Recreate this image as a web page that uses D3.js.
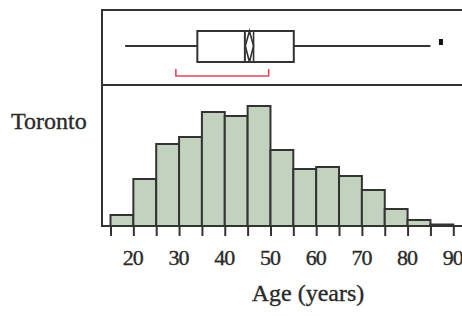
<!DOCTYPE html>
<html>
<head>
<meta charset="utf-8">
<script src="https://cdn.jsdelivr.net/npm/d3@7"></script>
<style>
  body { margin: 0; background: #fff; }
  text { font-family: "Liberation Serif", "DejaVu Serif", "Times New Roman", serif; fill: #2a2a2a; stroke: #2a2a2a; stroke-width: 0.35px; }
</style>
</head>
<body>
<svg id="chart" width="462" height="316"></svg>
<script>
// age histogram, 5-year bins
var binStarts = [15, 20, 25, 30, 35, 40, 45, 50, 55, 60, 65, 70, 75, 80, 85];
var binWidth = 5;
var percents = [1.1, 4.7, 8.2, 8.9, 11.4, 11.0, 12.0, 7.6, 5.7, 5.9, 5.0, 3.6, 1.7, 0.6, 0.15];
var tickVals = [15, 20, 25, 30, 35, 40, 45, 50, 55, 60, 65, 70, 75, 80, 85, 90];
var tickLabels = ["", "20", "", "30", "", "40", "", "50", "", "60", "", "70", "", "80", "", "90"];

// box plot summary
var whiskerLo = 18.2, q1 = 34.0, median = 44.4, q3 = 55.1, whiskerHi = 85.0;
var meanLo = 44.5, mean = 45.4, meanHi = 46.3;
var outliers = [87.3];
var shortestHalf = [29.3, 49.6];

var svg = d3.select("#chart");
var frameL = 102, frameT = 10, divY = 85, baseY = 226, rightX = 463;
var ink = "#333";

var x = d3.scaleLinear().domain([15, 90]).range([110.5, 453.3]);
var y = d3.scaleLinear().domain([0, 14]).range([baseY, baseY - 140]);

// bars
svg.append("g").selectAll("rect")
    .data(binStarts)
    .enter().append("rect")
    .attr("x", function(d) { return x(d); })
    .attr("y", function(d, i) { return y(percents[i]); })
    .attr("width", function(d) { return x(d + binWidth) - x(d); })
    .attr("height", function(d, i) { return baseY - y(percents[i]); })
    .attr("fill", "#c2d2be")
    .attr("stroke", ink)
    .attr("stroke-width", 2);

// frame
svg.append("path")
    .attr("d", "M" + rightX + "," + frameT + "H" + frameL + "V" + baseY + "H" + rightX)
    .attr("fill", "none").attr("stroke", ink).attr("stroke-width", 2);
svg.append("line")
    .attr("x1", frameL).attr("x2", rightX).attr("y1", divY).attr("y2", divY)
    .attr("stroke", ink).attr("stroke-width", 2);

// x axis
var axis = d3.axisBottom(x)
    .tickValues(tickVals)
    .tickSize(10)
    .tickPadding(13)
    .tickFormat(function(d, i) { return tickLabels[i]; });
var gx = svg.append("g").attr("transform", "translate(0," + baseY + ")").call(axis);
gx.select(".domain").remove();
gx.selectAll(".tick line").attr("stroke", ink).attr("stroke-width", 2);
gx.selectAll(".tick text")
    .attr("font-size", 22)
    .attr("letter-spacing", "-1px")
    .attr("dx", -1);

svg.append("text")
    .attr("x", 308).attr("y", 301)
    .attr("text-anchor", "middle")
    .attr("font-size", 24)
    .text("Age (years)");

svg.append("text")
    .attr("x", 11).attr("y", 129)
    .attr("font-size", 24)
    .text("Toronto");

// box plot
var midY = 46, boxT = 31, boxB = 62;
var bp = svg.append("g").attr("stroke", ink).attr("stroke-width", 2).attr("fill", "none");
bp.append("line").attr("x1", x(whiskerLo)).attr("x2", x(q1)).attr("y1", midY).attr("y2", midY);
bp.append("line").attr("x1", x(q3)).attr("x2", x(whiskerHi)).attr("y1", midY).attr("y2", midY);
bp.append("rect")
    .attr("x", x(q1)).attr("y", boxT)
    .attr("width", x(q3) - x(q1)).attr("height", boxB - boxT);
bp.append("line").attr("x1", x(median)).attr("x2", x(median)).attr("y1", boxT).attr("y2", boxB);
bp.append("path")
    .attr("stroke-width", 1.6)
    .attr("d", "M" + x(meanLo) + "," + midY + "L" + x(mean) + "," + boxT +
               "L" + x(meanHi) + "," + midY + "L" + x(mean) + "," + boxB + "Z");
bp.append("line").attr("x1", x(meanHi)).attr("x2", x(meanHi)).attr("y1", boxT).attr("y2", boxB)
    .attr("stroke-width", 1.6);

svg.append("g").selectAll("rect")
    .data(outliers)
    .enter().append("rect")
    .attr("x", function(d) { return x(d) - 2; })
    .attr("y", 39)
    .attr("width", 4).attr("height", 6)
    .attr("fill", "#111");

// shortest half bracket
svg.append("path")
    .attr("d", "M" + x(shortestHalf[0]) + ",69V76H" + x(shortestHalf[1]) + "V69")
    .attr("fill", "none")
    .attr("stroke", "#e0485c")
    .attr("stroke-width", 1.6);
</script>
</body>
</html>
